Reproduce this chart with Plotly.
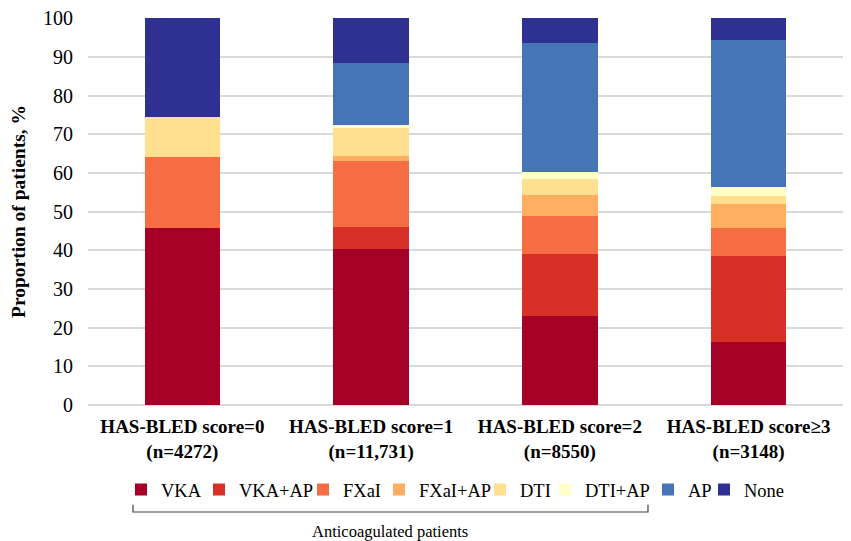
import plotly.graph_objects as go

categories = ["<b>HAS-BLED score=0</b><br><b>(n=4272)</b>",
              "<b>HAS-BLED score=1</b><br><b>(n=11,731)</b>",
              "<b>HAS-BLED score=2</b><br><b>(n=8550)</b>",
              "<b>HAS-BLED score≥3</b><br><b>(n=3148)</b>"]

series_names = ["VKA", "VKA+AP", "FXaI", "FXaI+AP", "DTI", "DTI+AP", "AP", "None"]
vka      = [45.7, 40.3, 23.0, 16.4]
vka_ap   = [0.0, 5.6, 16.0, 22.2]
fxai     = [18.5, 17.2, 9.8, 7.1]
fxai_ap  = [0.0, 1.3, 5.6, 6.3]
dti      = [10.3, 7.3, 3.9, 2.1]
dti_ap   = [0.0, 0.6, 2.0, 2.3]
ap       = [0.0, 16.2, 33.2, 37.9]
none     = [25.5, 11.5, 6.5, 5.7]
series_values = [vka, vka_ap, fxai, fxai_ap, dti, dti_ap, ap, none]
colors = ["#A50026", "#D73027", "#F46D43", "#FDAE61", "#FEE090", "#FFFFC6", "#4575B4", "#2E3192"]

FONT = "Liberation Serif"

# layout geometry (figure pixels); page body adds an 8px offset
W, H = 843, 533
L, R, T, B = 80, 8, 10, 136
PW = W - L - R
# legend swatch centres in page pixels
legend_sq_px = [141, 219, 323, 399, 500, 565, 668, 724]

fig = go.Figure()
legend_layouts = {}
for i, (name, vals, col) in enumerate(zip(series_names, series_values, colors)):
    key = "legend" if i == 0 else f"legend{i+1}"
    fig.add_trace(go.Bar(x=categories, y=vals, name=name, marker_color=col,
                         marker_line_width=0, legend=key))
    lx = (legend_sq_px[i] - 8 - 20 - L) / PW
    legend_layouts[key] = dict(orientation="h", x=lx, xanchor="left", y=-0.2196,
                               yanchor="middle", font=dict(size=18.5, family=FONT),
                               itemwidth=30, bgcolor="rgba(0,0,0,0)")

fig.update_layout(
    barmode="stack",
    bargap=0.6,
    width=W, height=H,
    margin=dict(l=L, r=R, t=T, b=B),
    plot_bgcolor="white", paper_bgcolor="white",
    font=dict(family=FONT, color="#000000", size=18),
    showlegend=True,
    **legend_layouts,
)
fig.update_yaxes(range=[0, 100.05], tickvals=list(range(0, 101, 10)), showgrid=True,
                 gridcolor="#D9D9D9", gridwidth=1.5,
                 zeroline=True, zerolinecolor="#D9D9D9", zerolinewidth=1.5,
                 ticks="", ticklabelstandoff=14, ticklabeloverflow="allow",
                 tickfont=dict(size=20, family=FONT),
                 title=dict(text="<b>Proportion of patients, %</b>", standoff=20,
                            font=dict(size=19.5, family=FONT)),
                 automargin=False, showline=False)
fig.update_xaxes(ticks="", tickfont=dict(size=19, family=FONT), showline=False,
                 automargin=False, ticklabelstandoff=8)

# bracket for anticoagulated patients
x0, x1 = 0.0596, 0.7417
ytop, yline = -0.258, -0.2765
fig.add_shape(type="path", xref="paper", yref="paper",
              path=f"M {x0},{ytop} L {x0},{yline} L {x1},{yline} L {x1},{ytop}",
              line=dict(color="#404040", width=1.2))
fig.add_annotation(text="Anticoagulated patients", xref="paper", yref="paper",
                   x=0.40, y=-0.328, showarrow=False, xanchor="center", yanchor="middle",
                   font=dict(size=16.5, family=FONT, color="#000000"))

fig.write_html("out.html")
